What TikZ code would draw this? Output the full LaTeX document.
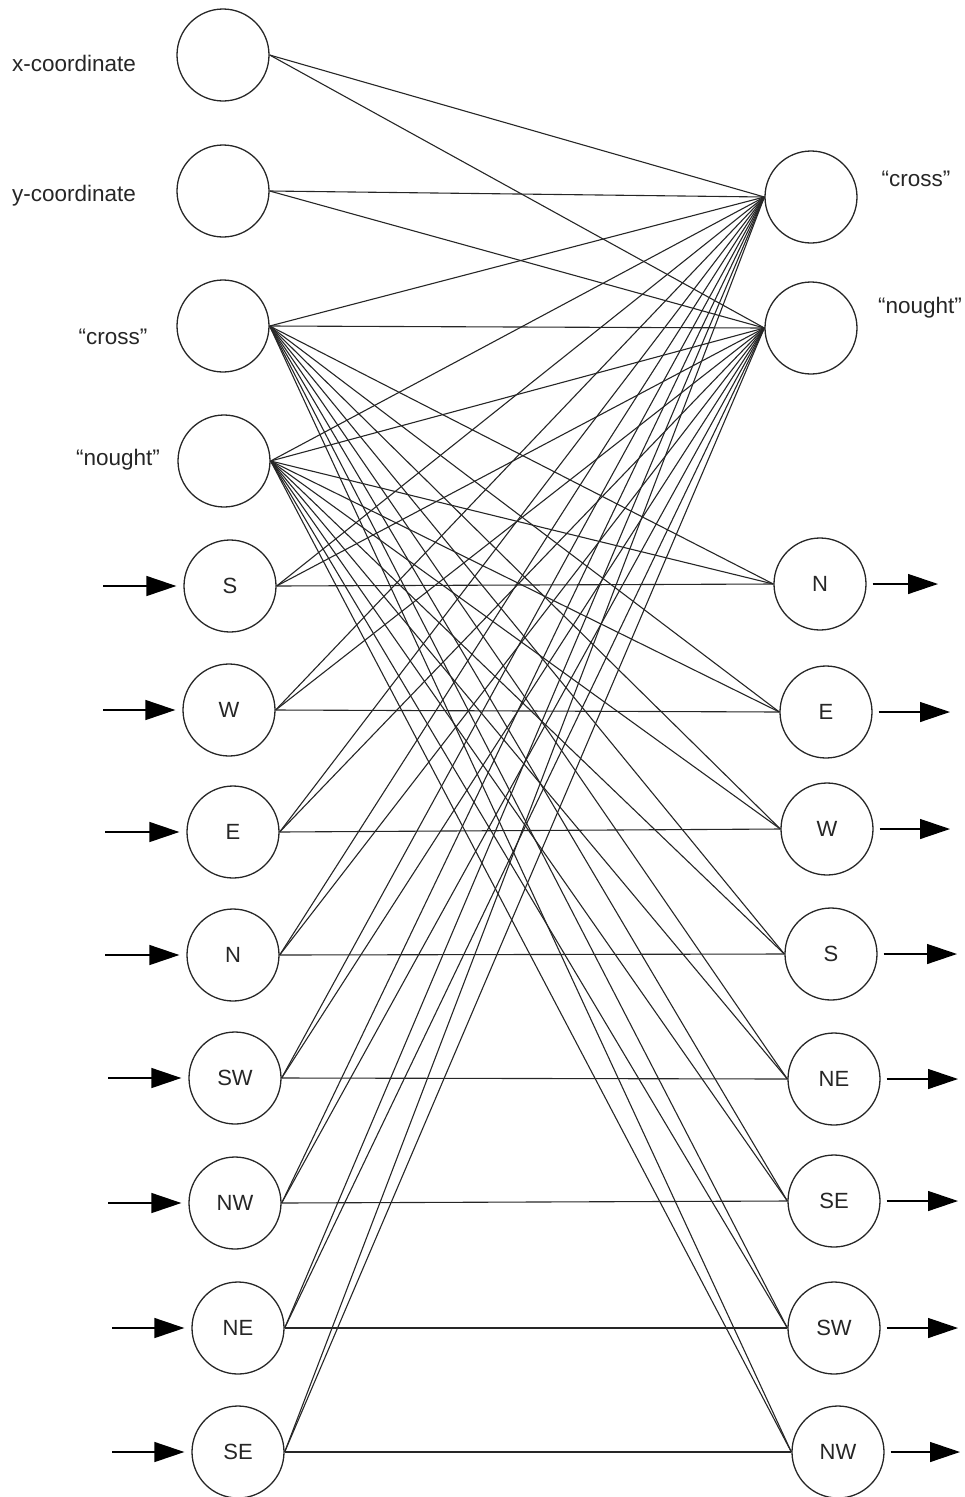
\documentclass[tikz,border=0pt]{standalone}
\usepackage{fontspec}
\setmainfont{Liberation Sans}
\usetikzlibrary{arrows.meta}
\begin{document}
\begin{tikzpicture}[x=1pt,y=-1pt,
  unit/.style={circle,draw=black!85,line width=1.3pt,minimum size=92pt,inner sep=0pt,
    font=\fontsize{22}{26}\selectfont,text=black!85},
  link/.style={draw=black!85,line width=1.1pt},
  flow/.style={draw=black,line width=1.3pt,-{Triangle[length=30pt,width=20pt]}},
  lbl/.style={font=\fontsize{22.5}{26}\selectfont,text=black!85,inner sep=0pt}]
\useasboundingbox (0,0) rectangle (965,1497);

% input layer
\node[unit] (lx)  at (223,55)  {};
\node[unit] (ly)  at (223,191) {};
\node[unit] (lc)  at (223,326) {};
\node[unit] (ln)  at (224,461) {};
\node[unit] (lS)  at (230,586) {S};
\node[unit] (lW)  at (229,710) {W};
\node[unit] (lE)  at (233,832) {E};
\node[unit] (lN)  at (233,955) {N};
\node[unit] (lSW) at (235,1078) {SW};
\node[unit] (lNW) at (235,1203) {NW};
\node[unit] (lNE) at (238,1328) {NE};
\node[unit] (lSE) at (238,1452) {SE};

% output layer
\node[unit] (rc)  at (811,197) {};
\node[unit] (rn)  at (811,328) {};
\node[unit] (rN)  at (820,584) {N};
\node[unit] (rE)  at (826,712) {E};
\node[unit] (rW)  at (827,829) {W};
\node[unit] (rS)  at (831,954) {S};
\node[unit] (rNE) at (834,1079) {NE};
\node[unit] (rSE) at (834,1201) {SE};
\node[unit] (rSW) at (834,1328) {SW};
\node[unit] (rNW) at (838,1452) {NW};

% labels
\node[lbl,anchor=west] (tx) at (12,63)  {x-coordinate};
\node[lbl,anchor=west] (ty) at (12,196) {y-coordinate};
\node[lbl] (tc)  at (113,337) {“cross”};
\node[lbl] (tn)  at (118,460) {“nought”};
\node[lbl] (trc) at (916,179) {“cross”};
\node[lbl] (trn) at (920,308) {“nought”};

% every input feeds both symbol units
\foreach \a in {lx,ly,lc,ln,lS,lW,lE,lN,lSW,lNW,lNE,lSE}
  \foreach \b in {rc,rn}
    \draw[link] (\a.east) -- (\b.west);

% symbol inputs feed every direction output
\foreach \a in {lc,ln}
  \foreach \b in {rN,rE,rW,rS,rNE,rSE,rSW,rNW}
    \draw[link] (\a.east) -- (\b.west);

% direction inputs to their opposite direction outputs
\foreach \a/\b in {lS/rN,lW/rE,lE/rW,lN/rS,lSW/rNE,lNW/rSE,lNE/rSW,lSE/rNW}
  \draw[link] (\a.east) -- (\b.west);

% incoming arrows
\coordinate (inS)  at (103,586);
\coordinate (inW)  at (103,710);
\coordinate (inE)  at (105,832);
\coordinate (inN)  at (105,955);
\coordinate (inSW) at (108,1078);
\coordinate (inNW) at (108,1203);
\coordinate (inNE) at (112,1328);
\coordinate (inSE) at (112,1452);
\foreach \c/\n in {inS/lS,inW/lW,inE/lE,inN/lN,inSW/lSW,inNW/lNW,inNE/lNE,inSE/lSE}
  \draw[flow,shorten >=7pt] (\c) -- (\n);

% outgoing arrows
\coordinate (outN)  at (938,584);
\coordinate (outE)  at (950,712);
\coordinate (outW)  at (950,829);
\coordinate (outS)  at (957,954);
\coordinate (outNE) at (958,1079);
\coordinate (outSE) at (958,1201);
\coordinate (outSW) at (958,1328);
\coordinate (outNW) at (960,1452);
\foreach \n/\c in {rN/outN,rE/outE,rW/outW,rS/outS,rNE/outNE,rSE/outSE,rSW/outSW,rNW/outNW}
  \draw[flow,shorten <=6pt] (\n) -- (\c);
\end{tikzpicture}
\end{document}
